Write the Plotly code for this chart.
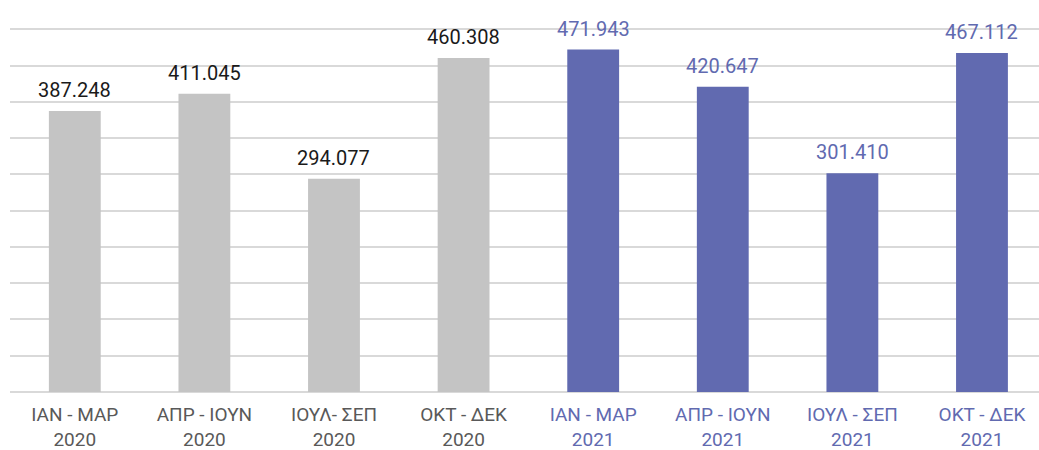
import plotly.graph_objects as go

categories = ["ΙΑΝ - ΜΑΡ<br>2020", "ΑΠΡ - ΙΟΥΝ<br>2020", "ΙΟΥΛ- ΣΕΠ<br>2020", "ΟΚΤ - ΔΕΚ<br>2020",
              "ΙΑΝ - ΜΑΡ<br>2021", "ΑΠΡ - ΙΟΥΝ<br>2021", "ΙΟΥΛ - ΣΕΠ<br>2021", "ΟΚΤ - ΔΕΚ<br>2021"]
values = [387.248, 411.045, 294.077, 460.308, 471.943, 420.647, 301.410, 467.112]
labels = ["387.248", "411.045", "294.077", "460.308", "471.943", "420.647", "301.410", "467.112"]
years = [2020, 2020, 2020, 2020, 2021, 2021, 2021, 2021]
grid_vals = [0, 50, 100, 150, 200, 250, 300, 350, 400, 450, 500]

GRAY = "#C4C4C4"
BLUE = "#616AB0"
bar_colors = [GRAY if y == 2020 else BLUE for y in years]
text_colors = ["#1A1A1A" if y == 2020 else BLUE for y in years]
tick_colors = ["#595959" if y == 2020 else BLUE for y in years]

xs = list(range(len(categories)))
FONT = "Roboto, sans-serif"

fig = go.Figure(go.Bar(
    x=xs, y=values, marker=dict(color=bar_colors, line=dict(width=0)),
    hoverinfo="skip",
))

for x, v, t, c in zip(xs, values, labels, text_colors):
    fig.add_annotation(x=x, y=v, text=t, showarrow=False, yanchor="bottom",
                       yshift=7, font=dict(size=20, color=c, family=FONT))

fig.update_layout(
    width=1039, height=450,
    margin=dict(l=10, r=0, t=22, b=58, autoexpand=False),
    plot_bgcolor="white", paper_bgcolor="white",
    bargap=0.6, showlegend=False,
    font=dict(family=FONT),
)
fig.update_xaxes(
    tickmode="array", tickvals=xs,
    ticktext=[f"<span style='color:{c}'>{t}</span>" for c, t in zip(tick_colors, categories)],
    tickfont=dict(size=19, family=FONT), ticklabelstandoff=9,
    range=[-0.5, 7.44], showgrid=False, zeroline=False, automargin=False,
    showline=False, ticks="",
)
fig.update_yaxes(
    range=[0, 510], tickvals=grid_vals,
    showgrid=True, gridcolor="#D9D9D9", gridwidth=1.5, automargin=False,
    showticklabels=False, zeroline=True, zerolinecolor="#D9D9D9", zerolinewidth=1.5,
    showline=False,
)

fig.write_html("out.html", config={"displayModeBar": False},
               post_script="document.body.style.margin='0';")
